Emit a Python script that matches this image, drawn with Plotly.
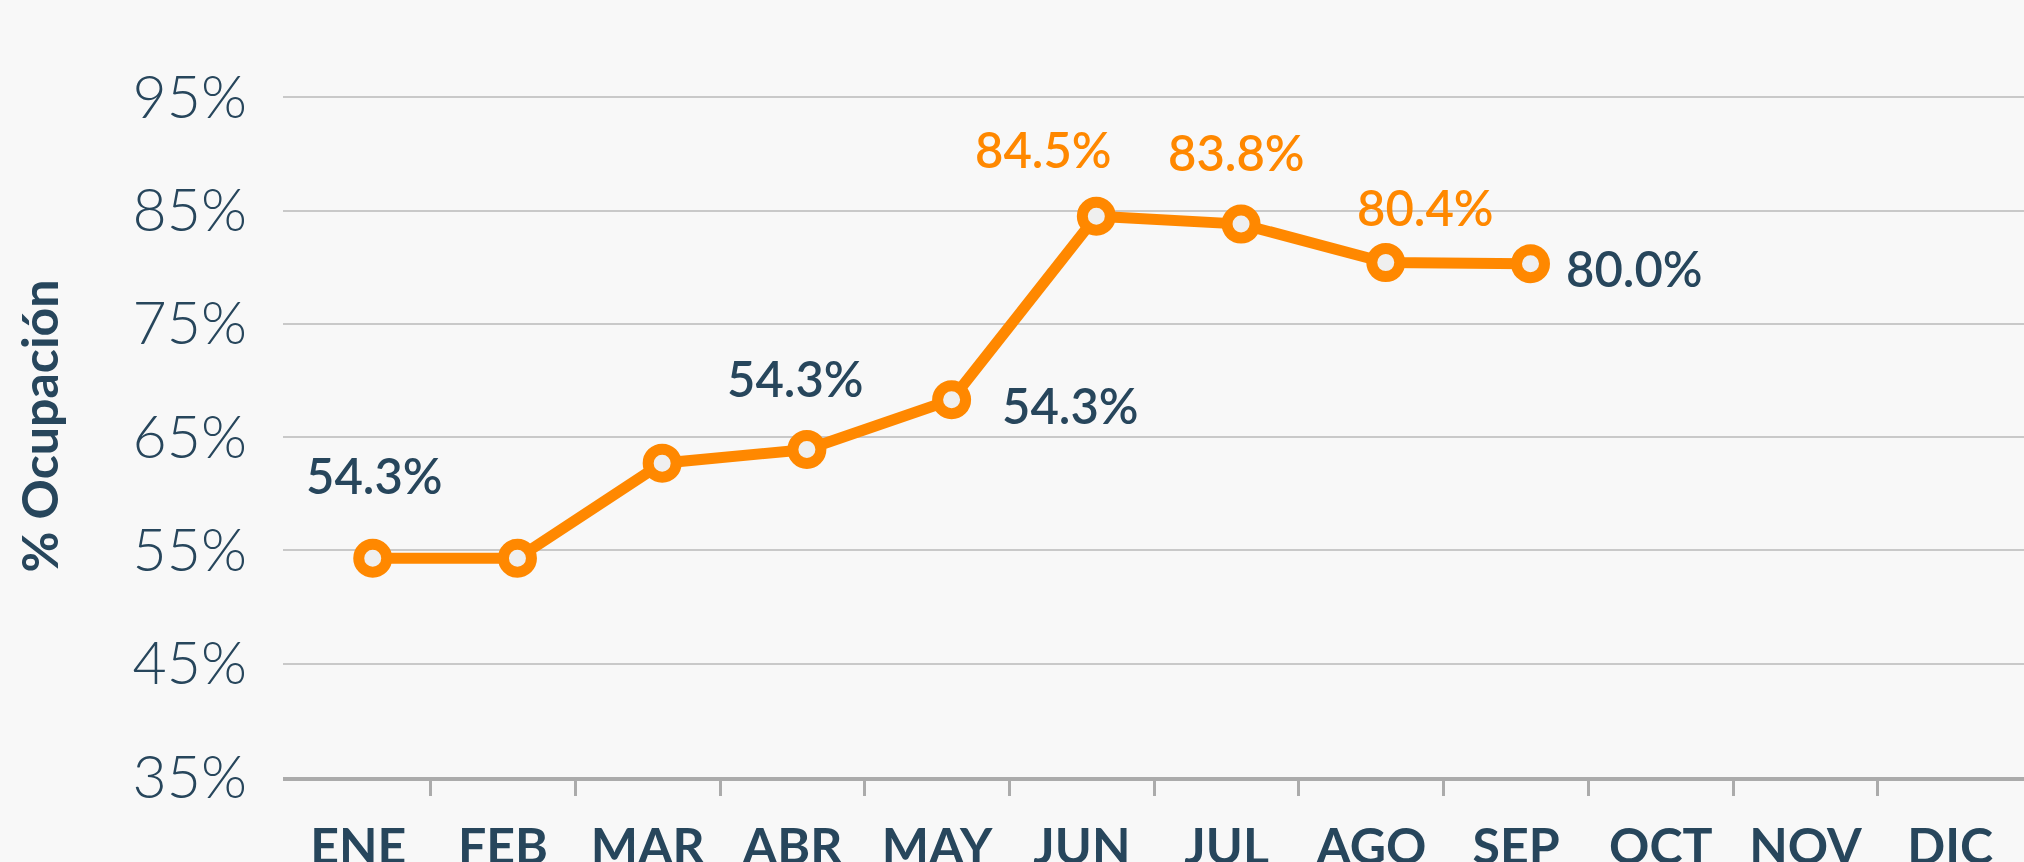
import plotly.graph_objects as go

# ---- data ----
months = ["ENE", "FEB", "MAR", "ABR", "MAY", "JUN", "JUL", "AGO", "SEP", "OCT", "NOV", "DIC"]
ocupacion = [54.3, 54.3, 62.7, 63.9, 68.3, 84.5, 83.8, 80.4, 80.3]
label_months = ["ENE", "ABR", "MAY", "JUN", "JUL", "AGO", "SEP"]
label_values = [54.3, 63.9, 68.3, 84.5, 83.8, 80.4, 80.3]
label_texts = ["54.3%", "54.3%", "54.3%", "84.5%", "83.8%", "80.4%", "80.0%"]
y_ticks = [35, 45, 55, 65, 75, 85, 95]
y_ticktext = ["35%", "45%", "55%", "65%", "75%", "85%", "95%"]

# ---- style ----
NAVY = "#27465C"
ORANGE = "#FF8800"
BG = "#F8F8F8"
label_colors = [NAVY, NAVY, NAVY, ORANGE, ORANGE, ORANGE, NAVY]
label_shift = [(2, 83), (-11, 72), (119, -5), (-53, 67), (-5, 72), (40, 56), (104, -4)]
AXIS_NUDGE = -0.1  # month labels / ticks sit slightly left of the points in the original

month_pos = {m: i for i, m in enumerate(months)}
x_data = [month_pos[m] for m in months[:len(ocupacion)]]

fig = go.Figure()
fig.add_trace(go.Scatter(
    x=x_data, y=ocupacion,
    mode="lines+markers",
    line=dict(color=ORANGE, width=11),
    marker=dict(size=28, color="#EFEFEF", line=dict(color=ORANGE, width=11)),
    cliponaxis=False, hoverinfo="skip", showlegend=False,
))

for m, v, t, c, (dx, dy) in zip(label_months, label_values, label_texts, label_colors, label_shift):
    fig.add_annotation(
        x=month_pos[m], y=v, text=t, showarrow=False,
        xanchor="center", yanchor="middle", xshift=dx, yshift=dy,
        font=dict(family="Lato", size=49, color=c, weight=600),
    )

fig.update_layout(
    width=2024, height=862,
    margin=dict(l=283, r=0, t=75, b=85),
    paper_bgcolor=BG, plot_bgcolor=BG,
    font=dict(family="Lato", color=NAVY),
)
fig.update_xaxes(
    type="linear", automargin=False,
    range=[-0.62, 11.41],
    tickmode="array",
    tickvals=[i + AXIS_NUDGE for i in range(len(months))],
    ticktext=months,
    showgrid=False, zeroline=False,
    showline=True, linecolor="#ABABAB", linewidth=4,
    ticks="",
    minor=dict(tickmode="array",
               tickvals=[i + 0.5 + AXIS_NUDGE for i in range(len(months) - 1)],
               ticks="outside", ticklen=15, tickwidth=3, tickcolor="#ABABAB", showgrid=False),
    tickfont=dict(family="Lato", size=50, color=NAVY, weight=700),
    ticklabelstandoff=23,
)
fig.update_yaxes(
    automargin=False,
    range=[35, 96.96],
    tickvals=y_ticks, ticktext=y_ticktext,
    showgrid=True, gridcolor="#C9C9C9", gridwidth=2,
    zeroline=False, showline=False, ticks="",
    tickfont=dict(family="Lato", size=59, color=NAVY, weight=300),
    ticklabelstandoff=35,
    title=dict(text="% Ocupación", font=dict(family="Lato", size=50, color=NAVY, weight=700), standoff=58),
)

fig.write_html("out.html", config={"displayModeBar": False},
               post_script="document.body.style.margin='0';document.body.style.overflow='hidden';")
